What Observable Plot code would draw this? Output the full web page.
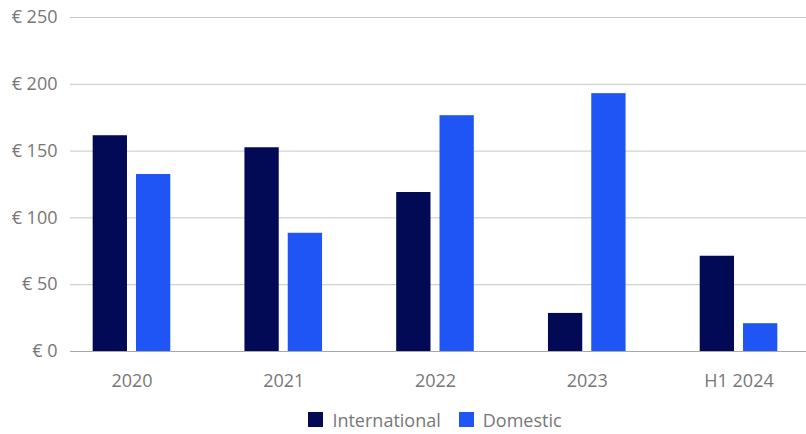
<!DOCTYPE html>
<html><head><meta charset="utf-8">
<script src="https://cdn.jsdelivr.net/npm/d3@7"></script>
<script src="https://cdn.jsdelivr.net/npm/@observablehq/plot@0.6"></script>
<style>
body{margin:0;background:#fff;font-family:"Open Sans",sans-serif;overflow:hidden;}
#chart{position:relative;width:806px;height:395px;}
#chart svg{position:absolute;left:0;top:0;overflow:hidden;}
#legend{display:flex;justify-content:center;padding-left:82px;margin-top:8px;}
</style>
</head><body><div id="chart"></div><div id="legend"></div>
<script>
const periods = ["2020", "2021", "2022", "2023", "H1 2024"];
const series = ["International", "Domestic"];
const international = [161.5, 152.5, 119, 28.5, 71.3];
const domestic = [132.5, 88.5, 176.5, 193, 20.8];
const yTicks = [0, 50, 100, 150, 200, 250];
const colors = ["#020a56", "#1f55f4"];

const data = periods.flatMap((p, i) => [
  {period: p, series: series[0], value: international[i]},
  {period: p, series: series[1], value: domestic[i]}
]);

const common = {
  width: 806, height: 395,
  marginLeft: 70, marginRight: 0, marginTop: 17, marginBottom: 44,
  y: {domain: [0, 250], label: null}
};

// background: grid + y axis
const grid = Plot.plot({
  ...common,
  style: {fontFamily: "Open Sans", fontSize: "18px", color: "#777", background: "#fff"},
  marks: [
    Plot.ruleY(yTicks.slice(1), {stroke: "#c6c6c6", strokeWidth: 1}),
    Plot.ruleY([0], {stroke: "#a8a8a8", strokeWidth: 1}),
    Plot.axisY(yTicks, {tickSize: 0, tickPadding: 13, tickFormat: d => "€ " + d, fill: "#777", label: null})
  ]
});

// bars (grouped with facets) + period labels
const bars = Plot.plot({
  ...common,
  style: {fontFamily: "Open Sans", fontSize: "18px", color: "#777", background: "transparent"},
  fx: {domain: periods, range: [55.6, 814.4], padding: 0, round: false, label: null},
  x: {domain: series, axis: null, paddingInner: 0.208, paddingOuter: 0.856, round: false},
  y: {domain: [0, 250], axis: null, label: null},
  color: {domain: series, range: colors},
  marks: [
    Plot.axisFx({anchor: "bottom", tickSize: 0, tickPadding: 23, fill: "#777", label: null}),
    Plot.barY(data, {fx: "period", x: "series", y: "value", fill: "series"})
  ]
});

const chart = document.getElementById("chart");
chart.appendChild(grid);
chart.appendChild(bars);

const leg = Plot.legend({
  color: {domain: series, range: colors, type: "categorical"},
  swatchSize: 15,
  style: {fontFamily: "Open Sans", fontSize: "18px", color: "#777"}
});
document.getElementById("legend").appendChild(leg);
</script>
</body></html>
